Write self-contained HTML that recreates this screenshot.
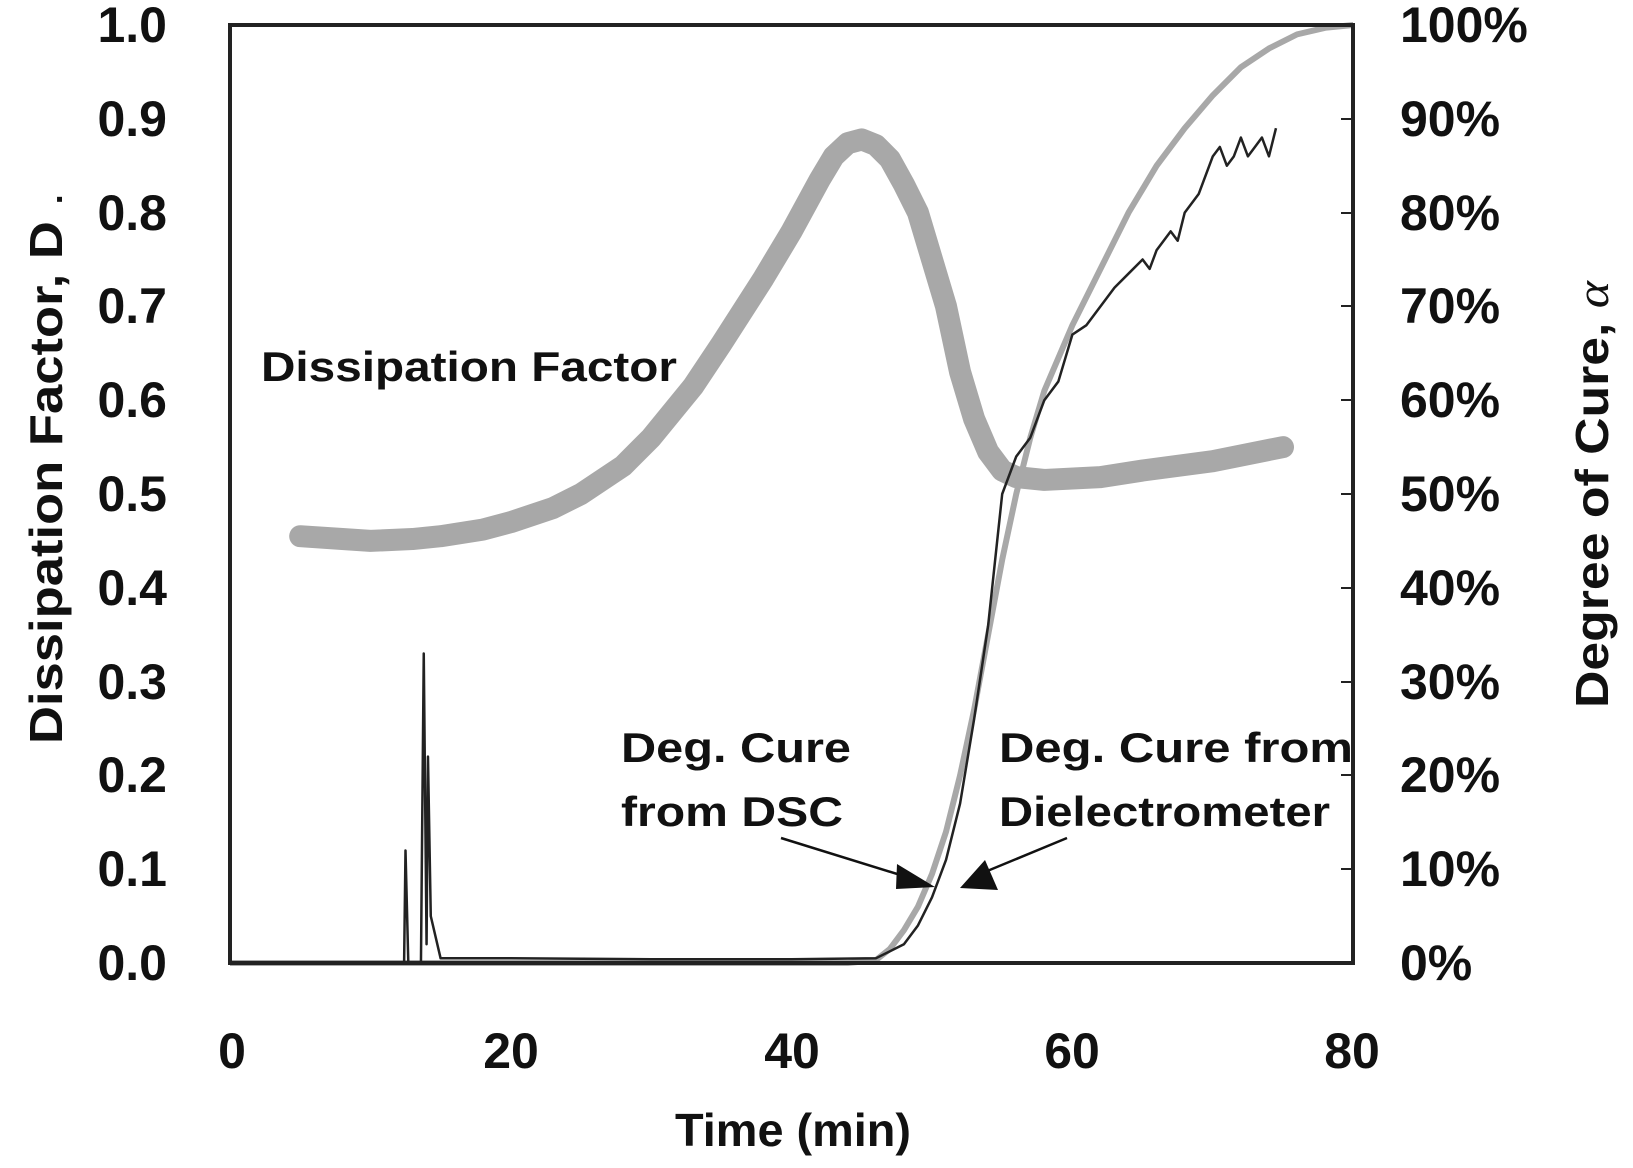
<!DOCTYPE html>
<html><head><meta charset="utf-8"><style>
html,body{margin:0;padding:0;background:#fff}
svg{display:block}
text{font-family:"Liberation Sans",sans-serif;font-weight:bold;fill:#111}
</style></head><body>
<svg width="1633" height="1168" viewBox="0 0 1633 1168" xmlns="http://www.w3.org/2000/svg">
<rect width="1633" height="1168" fill="#fff"/>
<g transform="translate(230,963) scale(14.04,-938)" fill="none">
  <polyline vector-effect="non-scaling-stroke" stroke="#a8a8a8" stroke-width="22" stroke-linejoin="round" stroke-linecap="round"
   points="5,0.455 8,0.452 10,0.45 13,0.452 15,0.455 18,0.462 20,0.47 23,0.485 25,0.50 28,0.53 30,0.56 33,0.615 35,0.66 38,0.73 40,0.78 42,0.835 43,0.86 44,0.874 45,0.878 46,0.872 47,0.857 48,0.83 49,0.80 50,0.75 51,0.70 52,0.63 53,0.58 54,0.545 55,0.525 56,0.518 58,0.515 62,0.518 65,0.525 70,0.535 75,0.55"/>
  <polyline vector-effect="non-scaling-stroke" stroke="#a8a8a8" stroke-width="6" stroke-linejoin="round"
   points="0,0 44,0 46,0.003 47,0.015 48,0.035 49,0.06 50,0.095 51,0.14 52,0.2 53,0.27 54,0.35 55,0.43 56,0.5 57,0.56 58,0.61 60,0.68 62,0.74 64,0.8 66,0.85 68,0.89 70,0.925 72,0.955 74,0.975 76,0.99 78,0.997 80,1"/>
  <polyline vector-effect="non-scaling-stroke" stroke="#222" stroke-width="2.5" stroke-linejoin="round"
   points="12.4,0 12.5,0.12 12.7,0 13.6,0 13.8,0.33 14,0.02 14.1,0.22 14.3,0.05 15,0.005 20,0.005 30,0.004 40,0.004 46,0.005 48,0.02 49,0.04 50,0.07 51,0.11 52,0.17 53,0.26 54,0.36 55,0.5 56,0.54 57,0.56 58,0.6 59,0.62 60,0.67 61,0.68 62,0.7 63,0.72 64,0.735 65,0.75 65.5,0.74 66,0.76 67,0.78 67.5,0.77 68,0.8 69,0.82 69.5,0.84 70,0.86 70.5,0.87 71,0.85 71.5,0.86 72,0.88 72.5,0.86 73,0.87 73.5,0.88 74,0.86 74.5,0.89"/>
</g>
<rect x="230" y="25" width="1123" height="938" fill="none" stroke="#222" stroke-width="4"/>
<g stroke="#222" stroke-width="2">
  <line x1="1353" y1="119" x2="1341" y2="119"/><line x1="1353" y1="213" x2="1341" y2="213"/><line x1="1353" y1="306" x2="1341" y2="306"/><line x1="1353" y1="400" x2="1341" y2="400"/><line x1="1353" y1="494" x2="1341" y2="494"/><line x1="1353" y1="588" x2="1341" y2="588"/><line x1="1353" y1="682" x2="1341" y2="682"/><line x1="1353" y1="775" x2="1341" y2="775"/><line x1="1353" y1="869" x2="1341" y2="869"/>
</g>
<g font-size="50" text-anchor="end">
<text x="167" y="42">1.0</text><text x="167" y="136">0.9</text><text x="167" y="230">0.8</text><text x="167" y="323">0.7</text><text x="167" y="417">0.6</text><text x="167" y="511">0.5</text><text x="167" y="605">0.4</text><text x="167" y="699">0.3</text><text x="167" y="792">0.2</text><text x="167" y="886">0.1</text><text x="167" y="980">0.0</text>
</g>
<g font-size="50">
<text x="1400" y="42">100%</text><text x="1400" y="136">90%</text><text x="1400" y="230">80%</text><text x="1400" y="323">70%</text><text x="1400" y="417">60%</text><text x="1400" y="511">50%</text><text x="1400" y="605">40%</text><text x="1400" y="699">30%</text><text x="1400" y="792">20%</text><text x="1400" y="886">10%</text><text x="1400" y="980">0%</text>
</g>
<g font-size="50" text-anchor="middle">
<text x="232" y="1068">0</text><text x="511" y="1068">20</text><text x="792" y="1068">40</text><text x="1072" y="1068">60</text><text x="1352" y="1068">80</text>
</g>
<text x="675" y="1146" font-size="46" textLength="236" lengthAdjust="spacingAndGlyphs">Time (min)</text>
<text transform="translate(62,744) rotate(-90)" font-size="46" textLength="552" lengthAdjust="spacingAndGlyphs">Dissipation Factor, D<tspan font-weight="normal"> .</tspan></text>
<text transform="translate(1608,708) rotate(-90)" font-size="46" textLength="427" lengthAdjust="spacingAndGlyphs">Degree of Cure, <tspan font-family="Liberation Serif" font-style="italic" font-weight="normal">α</tspan></text>
<text x="261" y="381" font-size="42" textLength="416" lengthAdjust="spacingAndGlyphs">Dissipation Factor</text>
<g font-size="42">
<text x="621" y="762" textLength="230" lengthAdjust="spacingAndGlyphs">Deg. Cure</text><text x="621" y="826" textLength="222" lengthAdjust="spacingAndGlyphs">from DSC</text>
<text x="999" y="762" textLength="354" lengthAdjust="spacingAndGlyphs">Deg. Cure from</text><text x="999" y="826" textLength="331" lengthAdjust="spacingAndGlyphs">Dielectrometer</text>
</g>
<g stroke="#111" stroke-width="2.5">
<line x1="781" y1="838" x2="910" y2="878"/>
<line x1="1067" y1="838" x2="980" y2="874"/>
</g>
<polygon points="897,864 935,887 896,889" fill="#111"/>
<polygon points="985,860 998,890 960,888" fill="#111"/>
</svg>
</body></html>
